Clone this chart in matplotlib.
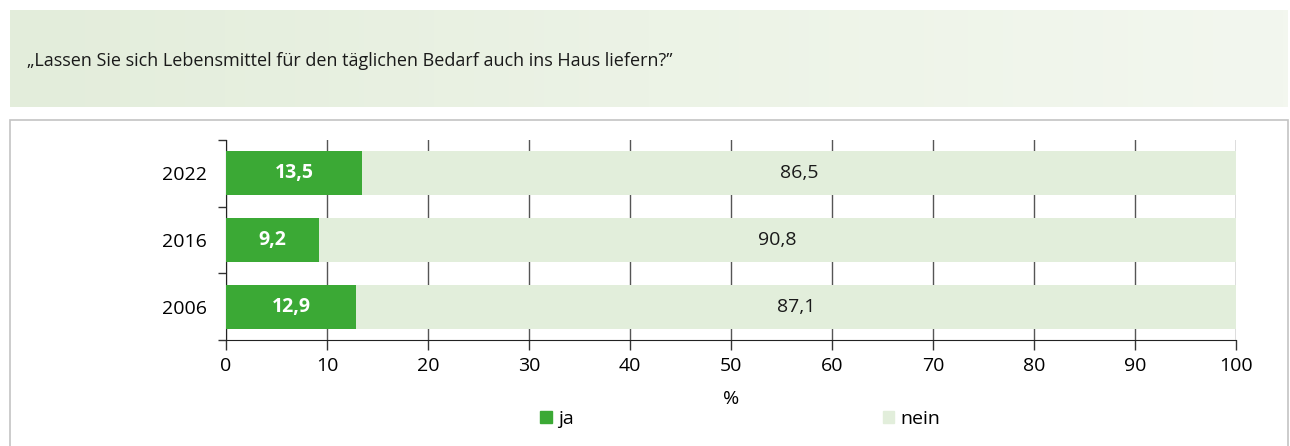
import matplotlib
matplotlib.use("Agg")
import matplotlib.pyplot as plt
import numpy as np
from matplotlib.patches import Rectangle
from matplotlib.colors import LinearSegmentedColormap

plt.rcParams['font.family'] = ['Open Sans', 'DejaVu Sans']

title = "\u201eLassen Sie sich Lebensmittel f\u00fcr den t\u00e4glichen Bedarf auch ins Haus liefern?\u201d"
years = ["2022", "2016", "2006"]
ja = [13.5, 9.2, 12.9]
nein = [86.5, 90.8, 87.1]
xticks = [0, 10, 20, 30, 40, 50, 60, 70, 80, 90, 100]
series_names = ["ja", "nein"]

c_ja = "#3ba935"
c_nein = "#e2eedb"

W, H = 1290, 446
fig = plt.figure(figsize=(W / 100, H / 100), dpi=100)

# header band with gradient
hax = fig.add_axes([10 / W, 1 - 107 / H, 1278 / W, 97 / H])
grad = np.linspace(0, 1, 256)[None, :]
cmap = LinearSegmentedColormap.from_list("g", ["#e3eddb", "#ecf3e6", "#f3f7ef"])
hax.imshow(grad, aspect="auto", cmap=cmap, extent=[0, 1, 0, 1])
hax.set_axis_off()
fig.text(27 / W, 1 - 61 / H, title, fontsize=13, va="center", ha="left", color="#1a1a1a")

# chart box
fig.patches.append(Rectangle((10 / W, -0.01), 1278 / W, 1 - 120 / H + 0.01,
                             transform=fig.transFigure, fill=False,
                             edgecolor="#c4c4c4", linewidth=1.2))

ax = fig.add_axes([226 / W, 1 - 340 / H, 1010 / W, 200 / H])
y = np.arange(len(years))[::-1]
ax.barh(y, ja, height=0.66, color=c_ja, zorder=3)
ax.barh(y, nein, left=ja, height=0.66, color=c_nein, zorder=3)

for yi, a, b in zip(y, ja, nein):
    ax.text(a / 2, yi, f"{a:.1f}".replace(".", ","), ha="center", va="center",
            color="white", fontsize=14, fontweight="bold", zorder=4)
    ax.text(a + b / 2, yi, f"{b:.1f}".replace(".", ","), ha="center", va="center",
            color="#1a1a1a", fontsize=14, zorder=4)

ax.set_xlim(0, 100)
ax.set_ylim(-0.5, 2.5)
ax.set_xticks(xticks)
ax.set_xticklabels([str(t) for t in xticks], fontsize=14)
ax.set_yticks(y)
ax.set_yticklabels(years, fontsize=14)
ax.set_yticks([-0.5, 0.5, 1.5, 2.5], minor=True)
ax.tick_params(axis="y", which="major", length=0, pad=14)
ax.tick_params(axis="y", which="minor", length=6, width=1, color="#333333")
ax.tick_params(axis="x", length=7, width=1, color="#333333", pad=5)
ax.grid(axis="x", color="#555555", linewidth=1, zorder=0)
ax.set_axisbelow(True)
for s in ["top", "right"]:
    ax.spines[s].set_visible(False)
ax.spines["left"].set_color("#222222")
ax.spines["bottom"].set_color("#222222")
ax.set_xlabel("%", fontsize=14, labelpad=11)

handles = [Rectangle((0, 0), 1, 1, color=c_ja), Rectangle((0, 0), 1, 1, color=c_nein)]
fig.legend(handles, series_names, loc="center", bbox_to_anchor=(740 / W, 1 - 419 / H),
           ncol=2, frameon=False, fontsize=14, handlelength=0.6, handleheight=0.6,
           handletextpad=0.3, columnspacing=15.9)

fig.savefig("out.png", dpi=100)
